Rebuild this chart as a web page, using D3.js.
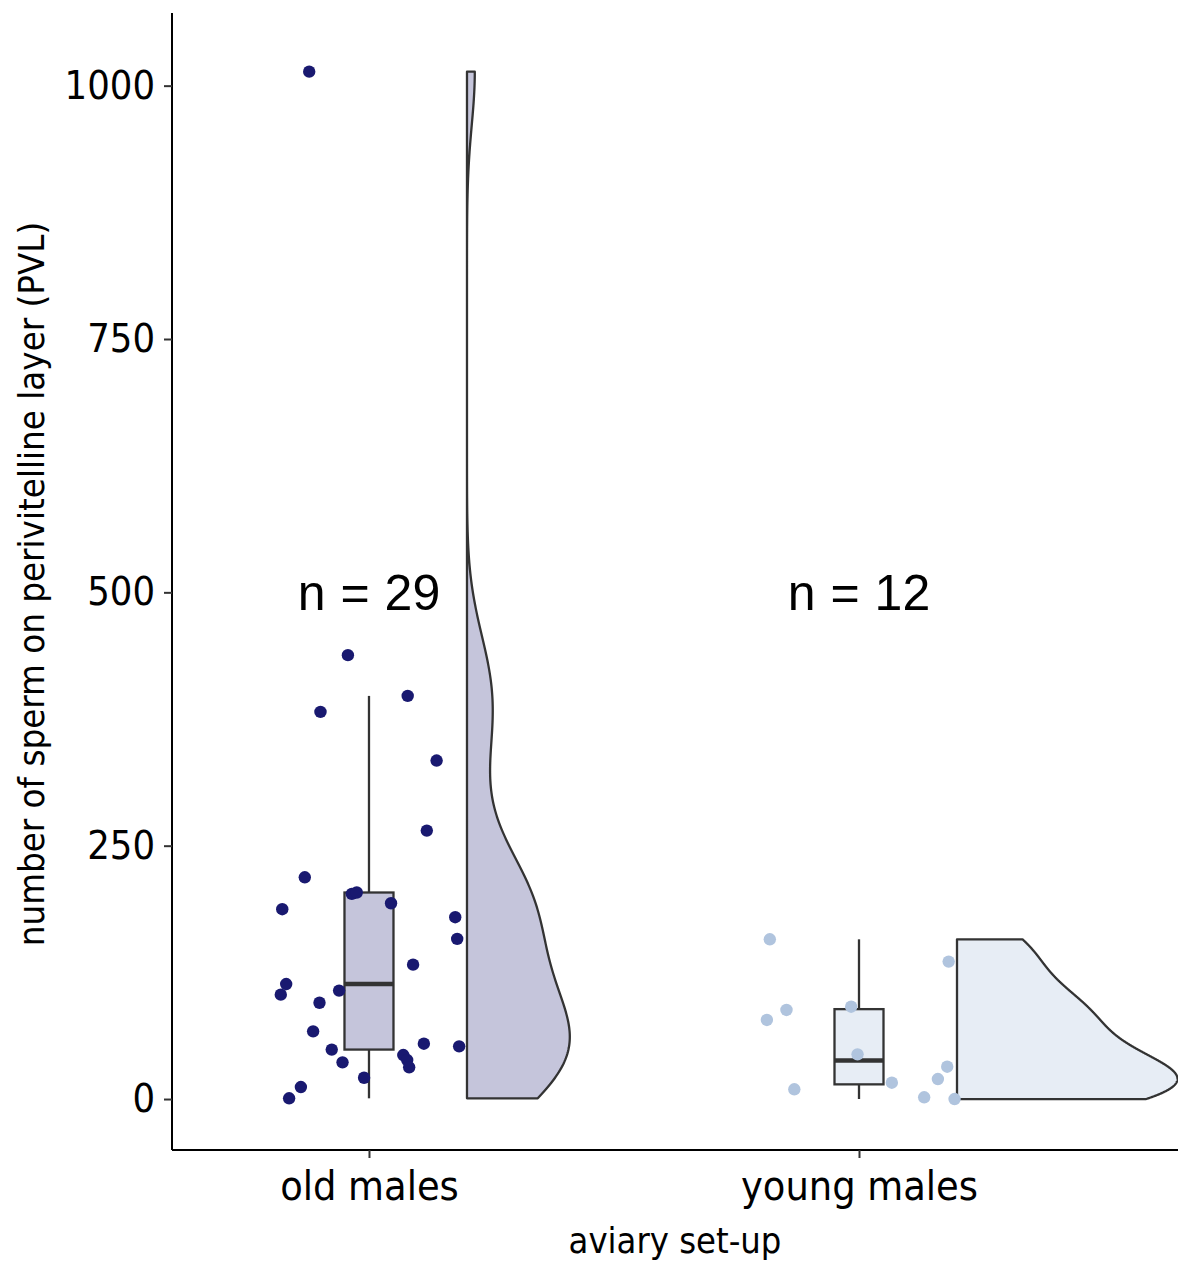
<!DOCTYPE html>
<html><head><meta charset="utf-8">
<script src="https://cdn.jsdelivr.net/npm/d3@7"></script>
<style>
body{margin:0;background:#fff}
text{font-family:'DejaVu Sans Condensed','DejaVu Sans',sans-serif;font-stretch:condensed}
</style>
</head><body><svg id="chart" width="1178" height="1262"></svg>
<script>
// ---- data ----
const categories = ["old males", "young males"];
const oldValues = [1013.8, 438, 397.8, 382, 334, 264.9, 218.8, 187.3, 202.4, 203.8, 193.2, 179.4, 158, 132.6, 113.5, 103, 107, 95, 66.8, 48.8, 54.6, 52, 36.2, 43.4, 38.5, 31.3, 21, 11.8, 0.7];
const oldJitter = [-0.122, -0.043, 0.079, -0.099, 0.138, 0.118, -0.131, -0.177, -0.035, -0.025, 0.045, 0.176, 0.180, 0.090, -0.169, -0.180, -0.061, -0.101, -0.114, -0.076, 0.112, 0.184, -0.054, 0.070, 0.078, 0.082, -0.010, -0.139, -0.163];
const youngValues = [157.6, 87.9, 78, 9.6, 91.1, 44.1, 16.1, 1.7, 19.7, 31.9, 135.6, 0];
const youngJitter = [-0.182, -0.148, -0.188, -0.132, -0.016, -0.003, 0.067, 0.133, 0.161, 0.180, 0.183, 0.195];
const yTicks = [0, 250, 500, 750, 1000];
const nLabels = ["n = 29", "n = 12"];
const nLabelY = 500;
const pointColors = ["#191970", "#B0C4DE"];
const fillOpacity = [0.25, 0.3];
const xTitle = "aviary set-up";
const yTitle = "number of sperm on perivitelline layer (PVL)";

const groups = [
  {name: categories[0], values: oldValues, jitter: oldJitter, color: pointColors[0], op: fillOpacity[0], n: nLabels[0], pos: 1},
  {name: categories[1], values: youngValues, jitter: youngJitter, color: pointColors[1], op: fillOpacity[1], n: nLabels[1], pos: 2}
];

const svg = d3.select("#chart");
svg.append("rect").attr("width", 1178).attr("height", 1262).attr("fill", "#fff");

const x = d3.scaleLinear().domain([0.598, 2.651]).range([172, 1178]);
const y = d3.scaleLinear().domain([-50.3, 1071.7]).range([1150, 13]);

// kernel density (gaussian, nrd0 bandwidth, trimmed to data range)
function kde(values) {
  const n = values.length;
  const s = values.slice().sort(d3.ascending);
  const sd = d3.deviation(values);
  const iqr = d3.quantileSorted(s, 0.75) - d3.quantileSorted(s, 0.25);
  const lo = Math.min(sd, iqr / 1.34);
  const bw = 0.9 * lo * Math.pow(n, -0.2);
  const mn = s[0], mx = s[n - 1];
  return d3.range(512).map(i => {
    const v = mn + (mx - mn) * i / 511;
    const d = d3.sum(values, u => Math.exp(-0.5 * ((v - u) / bw) ** 2)) / (n * bw * Math.sqrt(2 * Math.PI));
    return [v, d];
  });
}
groups.forEach(g => g.dens = kde(g.values));
const maxD = d3.max(groups, g => d3.max(g.dens, d => d[1]));

const LW = 2.3;
const gV = svg.append("g");
groups.forEach(g => {
  const x0 = g.pos + 0.2;
  const pts = g.dens.map(d => [x(x0), y(d[0])])
    .concat(g.dens.slice().reverse().map(d => [x(x0 + 0.45 * d[1] / maxD), y(d[0])]));
  gV.append("path")
    .attr("d", d3.line()(pts) + "Z")
    .attr("fill", g.color).attr("fill-opacity", g.op)
    .attr("stroke", "#333333").attr("stroke-width", LW).attr("stroke-linejoin", "round");
});

// boxplots
const gB = svg.append("g");
groups.forEach(g => {
  const s = g.values.slice().sort(d3.ascending);
  const q1 = d3.quantileSorted(s, 0.25), med = d3.quantileSorted(s, 0.5), q3 = d3.quantileSorted(s, 0.75);
  const iqr = q3 - q1;
  const hiW = d3.max(s.filter(v => v <= q3 + 1.5 * iqr));
  const loW = d3.min(s.filter(v => v >= q1 - 1.5 * iqr));
  const cx = x(g.pos), hw = x(g.pos + 0.05) - x(g.pos);
  gB.append("line").attr("x1", cx).attr("x2", cx).attr("y1", y(q3)).attr("y2", y(hiW)).attr("stroke", "#333333").attr("stroke-width", LW);
  gB.append("line").attr("x1", cx).attr("x2", cx).attr("y1", y(q1)).attr("y2", y(loW)).attr("stroke", "#333333").attr("stroke-width", LW);
  gB.append("rect").attr("x", cx - hw).attr("width", 2 * hw).attr("y", y(q3)).attr("height", y(q1) - y(q3))
    .attr("fill", "#fff").attr("stroke", "none");
  gB.append("rect").attr("x", cx - hw).attr("width", 2 * hw).attr("y", y(q3)).attr("height", y(q1) - y(q3))
    .attr("fill", g.color).attr("fill-opacity", g.op).attr("stroke", "#333333").attr("stroke-width", LW);
  gB.append("line").attr("x1", cx - hw).attr("x2", cx + hw).attr("y1", y(med)).attr("y2", y(med)).attr("stroke", "#333333").attr("stroke-width", 4.5);
});

// jittered points
const gP = svg.append("g");
groups.forEach(g => {
  gP.selectAll(null).data(g.values.map((v, i) => ({v, j: g.jitter[i]}))).join("circle")
    .attr("cx", d => x(g.pos + d.j)).attr("cy", d => y(d.v)).attr("r", 6.2).attr("fill", g.color);
});

// n labels
groups.forEach(g => {
  svg.append("text").attr("x", x(g.pos)).attr("y", y(nLabelY) + 18)
    .attr("text-anchor", "middle").style("font-family", "'Liberation Sans', Arial, sans-serif").style("font-stretch", "normal")
    .attr("font-size", 50).attr("word-spacing", 1).attr("fill", "#000").text(g.n);
});

// axes
const yAxis = svg.append("g").attr("transform", "translate(172,0)")
  .call(d3.axisLeft(y).tickValues(yTicks).tickSize(8).tickPadding(9).tickFormat(d3.format("d")));
yAxis.select(".domain").attr("d", `M0,13V1150`).attr("stroke", "#000").attr("stroke-width", 2);
yAxis.selectAll(".tick line").attr("stroke", "#333").attr("stroke-width", 2);
yAxis.selectAll(".tick text").attr("font-size", 39.5).attr("fill", "#000").style("font-family", null);

const xAxis = svg.append("g").attr("transform", "translate(0,1150)")
  .call(d3.axisBottom(x).tickValues([1, 2]).tickSize(8).tickPadding(10).tickFormat((d, i) => categories[i]));
xAxis.select(".domain").attr("d", `M172,0H1178`).attr("stroke", "#000").attr("stroke-width", 2);
xAxis.selectAll(".tick line").attr("stroke", "#333").attr("stroke-width", 2);
xAxis.selectAll(".tick text").attr("font-size", 41).attr("fill", "#000").attr("dy", null).attr("y", 50);

svg.append("text").attr("x", 675).attr("y", 1253).attr("text-anchor", "middle").attr("font-size", 36).text(xTitle);
svg.append("text").attr("transform", "translate(44,584) rotate(-90)").attr("text-anchor", "middle").attr("font-size", 36.3).text(yTitle);
</script>
</body></html>
